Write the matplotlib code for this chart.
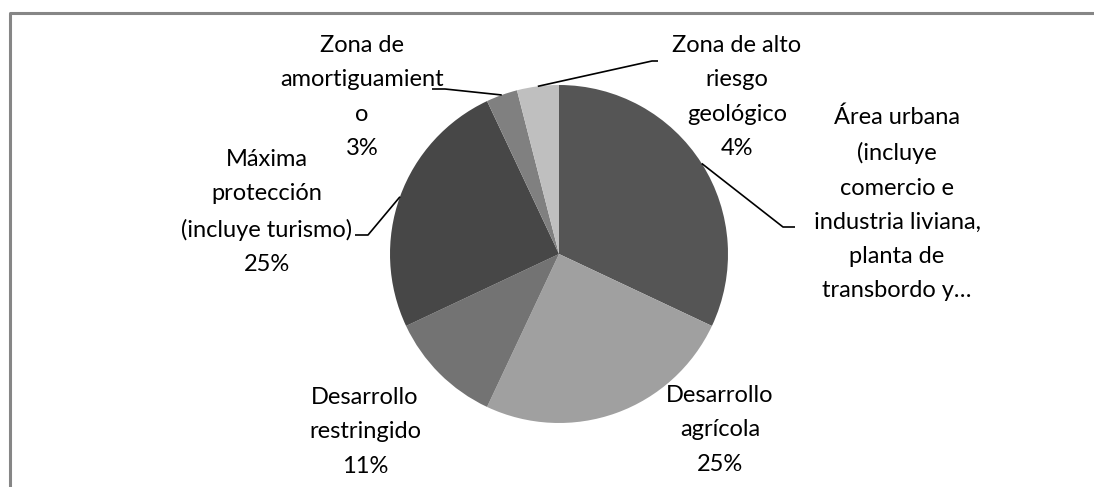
import numpy as np
import matplotlib
matplotlib.use("Agg")
import matplotlib.pyplot as plt
from matplotlib.lines import Line2D

categories = [
    "Área urbana\n(incluye\ncomercio e\nindustria liviana,\nplanta de\ntransbordo y…",
    "Desarrollo\nagrícola",
    "Desarrollo\nrestringido",
    "Máxima\nprotección\n(incluye turismo)",
    "Zona de\namortiguamient\no",
    "Zona de alto\nriesgo\ngeológico",
]
values = [32, 25, 11, 25, 3, 4]
show_pct = [False, True, True, True, True, True]
colors = ["#555555", "#a0a0a0", "#737373", "#474747", "#808080", "#bfbfbf"]

W, H = 1094, 487
fig = plt.figure(figsize=(W / 100, H / 100), dpi=100)
ax = fig.add_axes([0, 0, 1, 1])

cx, cy, r = 559, H - 254, 169
wedges, _ = ax.pie(values, colors=colors, startangle=90, counterclock=False,
                   center=(cx, cy), radius=r, frame=True,
                   wedgeprops=dict(linewidth=0))
ax.set_xlim(0, W)
ax.set_ylim(0, H)
ax.set_aspect("equal")
ax.axis("off")

# label layout (pixel positions of text block centre, and leader elbows)
label_pos = [(897, H - 204), (720, H - 430), (365, H - 432), (267, H - 212),
             (362, H - 97), (737, H - 97)]
elbows = [((783, H - 227), (795, H - 227)), None, None,
          ((368, H - 235), (355, H - 235)),
          ((445, H - 89), (432, H - 89)),
          ((652, H - 61), (658, H - 61))]

font = ["Lato", "DejaVu Sans"]
total = sum(values)
cum = 0
for i, (lab, v) in enumerate(zip(categories, values)):
    mid = (cum + v / 2) / total
    cum += v
    text = lab + (f"\n{round(100 * v / total)}%" if show_pct[i] else "")
    x, y = label_pos[i]
    ax.text(x, y, text, ha="center", va="center", fontsize=17,
            family=font, color="black", linespacing=1.78, multialignment="center")
    if elbows[i] is not None:
        ang = np.deg2rad(90 - 360 * mid)
        sx, sy = cx + r * np.cos(ang), cy + r * np.sin(ang)
        (ex, ey), (tx, ty) = elbows[i]
        ax.plot([sx, ex, tx], [sy, ey, ty], color="black", lw=1.2,
                solid_capstyle="butt")

# chart frame (partially cropped in reference)
fig.add_artist(Line2D([9.5 / W, 9.5 / W, 1.01], [-0.01, 1 - 12.5 / H, 1 - 12.5 / H],
                      transform=fig.transFigure, color="#868686", lw=2.2))

fig.savefig("out.png", dpi=100, facecolor="white")
